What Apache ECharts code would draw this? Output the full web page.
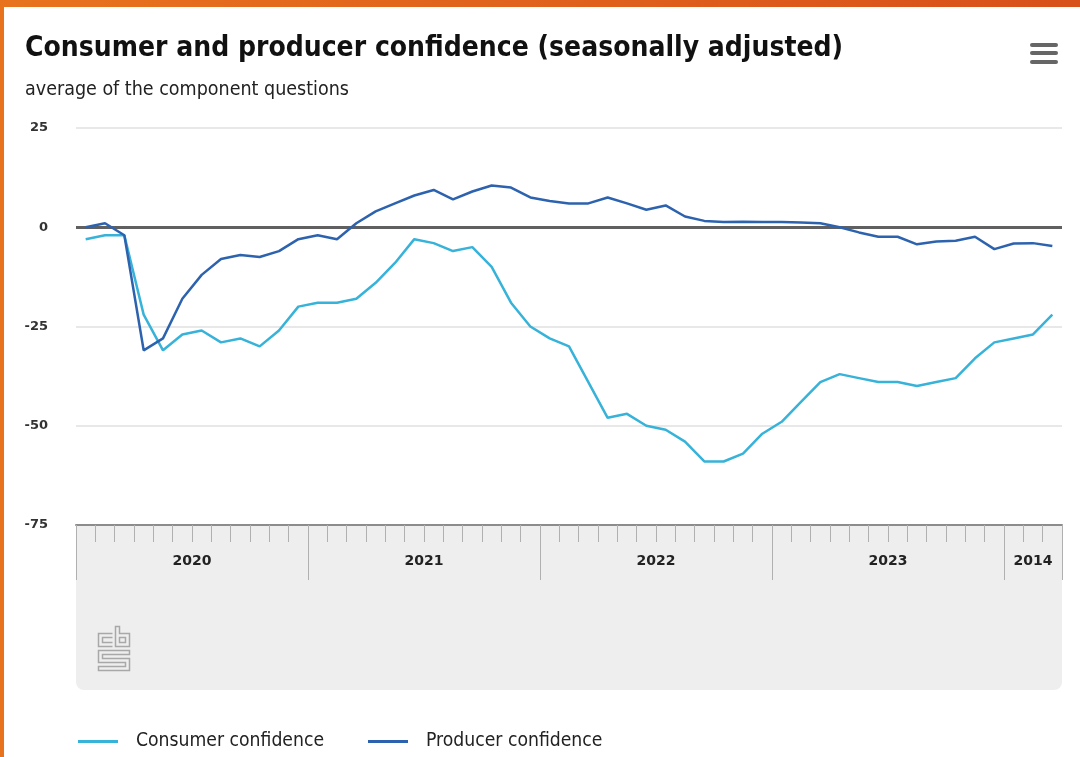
<!DOCTYPE html>
<html>
<head>
<meta charset="utf-8">
<script src="https://cdn.jsdelivr.net/npm/echarts@6.0.0/dist/echarts.min.js"></script>
<style>
  html, body { margin: 0; padding: 0; background: #ffffff; }
  #chart { width: 1080px; height: 757px; }
</style>
</head>
<body>
<div id="chart"></div>
<script>
// ---- data ----
const years = ['2020', '2021', '2022', '2023', '2024'];
const monthsPerYear = [12, 12, 12, 12, 3];
const monthNames = ['Jan','Feb','Mar','Apr','May','Jun','Jul','Aug','Sep','Oct','Nov','Dec'];
const yearLabels = ['2020', '2021', '2022', '2023', '2014'];

const consumer = [
  -3, -2, -2, -22, -31, -27, -26, -29, -28, -30, -26, -20,
  -19, -19, -18, -14, -9, -3, -4, -6, -5, -10, -19, -25,
  -28, -30, -39, -48, -47, -50, -51, -54, -59, -59, -57, -52,
  -49, -44, -39, -37, -38, -39, -39, -40, -39, -38, -33, -29,
  -28, -27, -22
];
const producer = [
  0, 1, -2, -31, -28, -18, -12, -8, -7, -7.5, -6, -3,
  -2, -3, 1, 4, 6, 8, 9.4, 7, 9, 10.5, 10, 7.5,
  6.6, 6, 6, 7.5, 6, 4.4, 5.5, 2.7, 1.6, 1.3, 1.4, 1.3,
  1.3, 1.2, 1, 0, -1.3, -2.4, -2.4, -4.3, -3.6, -3.4, -2.4, -5.5,
  -4.1, -4, -4.7
];
const yMin = -75, yMax = 25, yStep = 25;

// ---- derived ----
const categories = [];
years.forEach((y, i) => {
  for (let m = 0; m < monthsPerYear[i]; m++) categories.push(monthNames[m] + ' ' + y);
});
const bounds = [0];
monthsPerYear.forEach(n => bounds.push(bounds[bounds.length - 1] + n));
const labelPos = monthsPerYear.map((n, i) => bounds[i] + n / 2);
const labelMap = {};
labelPos.forEach((p, i) => { labelMap[p] = yearLabels[i]; });

const GL = 76, GR = 1062, GT = 128, GB = 525;
const NARROW = '"Liberation Sans Narrow", "DejaVu Sans Condensed", sans-serif';

const chart = echarts.init(document.getElementById('chart'), null, { renderer: 'canvas' });

chart.setOption({
  animation: false,
  backgroundColor: '#ffffff',
  title: [
    {
      text: 'Consumer and producer confidence (seasonally adjusted)',
      left: 25, top: 35, padding: 0,
      textStyle: { fontFamily: NARROW, fontWeight: 'bold', fontSize: 28, color: '#111' }
    },
    {
      text: 'average of the component questions',
      left: 25, top: 80, padding: 0,
      textStyle: { fontFamily: NARROW, fontWeight: 'normal', fontSize: 19.5, color: '#222' }
    }
  ],
  legend: [
    {
      data: ['Consumer confidence'],
      left: 78, top: 732, padding: 0,
      icon: 'rect', itemWidth: 40, itemHeight: 3,
      textStyle: { fontFamily: NARROW, fontSize: 19.2, color: '#222', padding: [0, 0, 0, 13] }
    },
    {
      data: ['Producer confidence'],
      left: 368, top: 732, padding: 0,
      icon: 'rect', itemWidth: 40, itemHeight: 3,
      textStyle: { fontFamily: NARROW, fontSize: 19.2, color: '#222', padding: [0, 0, 0, 13] }
    }
  ],
  grid: { left: GL, right: 1080 - GR, top: GT, bottom: 757 - GB, containLabel: false },
  xAxis: [
    {
      type: 'category',
      data: categories,
      boundaryGap: true,
      axisLine: { show: true, onZero: false, lineStyle: { color: '#8c8c8c', width: 2 } },
      axisTick: { show: true, interval: 0, length: 17, lineStyle: { color: '#b0b0b0', width: 1 } },
      axisLabel: { show: false },
      splitLine: { show: false }
    },
    {
      type: 'value',
      min: bounds[0], max: bounds[bounds.length - 1],
      position: 'bottom',
      axisLine: { show: false, onZero: false },
      axisTick: { show: true, customValues: bounds, length: 55, lineStyle: { color: '#b0b0b0', width: 1 } },
      axisLabel: {
        show: true, customValues: labelPos, margin: 29,
        formatter: v => labelMap[v] || '',
        fontFamily: 'DejaVu Sans', fontWeight: 'bold', fontSize: 14, color: '#222'
      },
      splitLine: { show: false }
    }
  ],
  yAxis: {
    type: 'value',
    min: yMin, max: yMax, interval: yStep,
    axisLine: { show: false },
    axisTick: { show: false },
    axisLabel: { margin: 28, fontFamily: 'DejaVu Sans', fontWeight: 'bold', fontSize: 13, color: '#333' },
    splitLine: { show: true, lineStyle: { color: '#e8e8e8', width: 2 } }
  },
  series: [
    {
      name: 'Consumer confidence',
      type: 'line',
      data: consumer,
      showSymbol: false,
      symbol: 'none',
      color: '#37B2D8',
      lineStyle: { width: 2.5, color: '#37B2D8' },
      z: 3
    },
    {
      name: 'Producer confidence',
      type: 'line',
      data: producer,
      showSymbol: false,
      symbol: 'none',
      color: '#2D63AE',
      lineStyle: { width: 2.5, color: '#2D63AE' },
      z: 4,
      markLine: {
        silent: true,
        symbol: 'none',
        label: { show: false },
        lineStyle: { color: '#606060', width: 3, type: 'solid' },
        data: [{ yAxis: 0 }],
        z: 2
      }
    }
  ],
  graphic: [
    // orange frame
    {
      type: 'rect', left: 0, top: 0, z: 100,
      shape: { width: 1080, height: 7 },
      style: { fill: new echarts.graphic.LinearGradient(0, 0, 1, 0, [
        { offset: 0, color: '#e8731e' }, { offset: 1, color: '#d8501a' }]) }
    },
    {
      type: 'rect', left: 0, top: 0, z: 100,
      shape: { width: 4, height: 757 },
      style: { fill: '#e8731e' }
    },
    // grey footer panel
    {
      type: 'rect', left: GL, top: GB, z: -10,
      shape: { width: GR - GL, height: 165, r: [0, 0, 8, 8] },
      style: { fill: '#eeeeee' }
    },
    // menu icon
    {
      type: 'group', left: 1030, top: 43, z: 100,
      children: [
        { type: 'rect', shape: { x: 0, y: 0, width: 28, height: 4, r: 2 }, style: { fill: '#666' } },
        { type: 'rect', shape: { x: 0, y: 8, width: 28, height: 4, r: 2 }, style: { fill: '#666' } },
        { type: 'rect', shape: { x: 0, y: 17, width: 28, height: 4, r: 2 }, style: { fill: '#666' } }
      ]
    },
    // cbs logo (outline)
    {
      type: 'group', left: 96, top: 624, z: 100,
      children: [
        { type: 'polyline', shape: { points: [[14, 7], [0, 7], [0, 20], [14, 20]] }, style: { stroke: '#a8a8a8', lineWidth: 1.5, fill: null } },
        { type: 'polyline', shape: { points: [[14, 11], [4, 11], [4, 16], [14, 16]] }, style: { stroke: '#a8a8a8', lineWidth: 1.5, fill: null } },
        { type: 'polygon', shape: { points: [[17, 0], [21, 0], [21, 7], [31, 7], [31, 20], [17, 20]] }, style: { stroke: '#a8a8a8', lineWidth: 1.5, fill: null } },
        { type: 'rect', shape: { x: 21, y: 11, width: 6, height: 5 }, style: { stroke: '#a8a8a8', lineWidth: 1.5, fill: null } },
        { type: 'polygon', shape: { points: [[0, 24], [31, 24], [31, 28], [4, 28], [4, 32], [31, 32], [31, 44], [0, 44], [0, 40], [27, 40], [27, 36], [0, 36]] }, style: { stroke: '#a8a8a8', lineWidth: 1.5, fill: null } }
      ]
    }
  ]
});
</script>
</body>
</html>
